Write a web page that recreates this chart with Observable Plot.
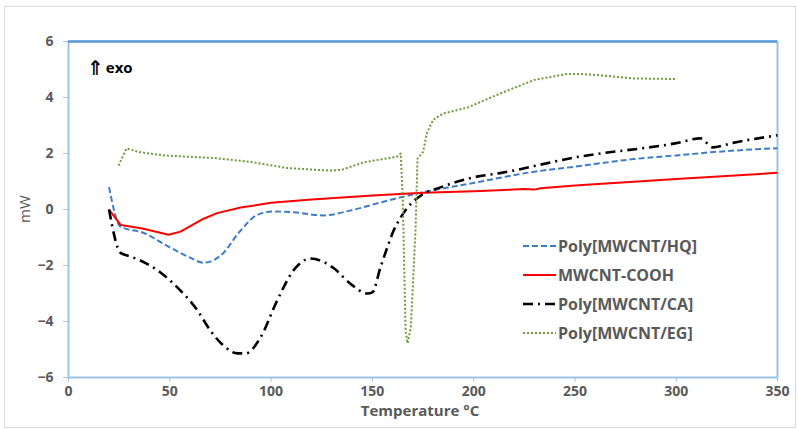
<!DOCTYPE html>
<html>
<head>
<meta charset="utf-8">
<script src="https://cdn.jsdelivr.net/npm/d3@7"></script>
<script src="https://cdn.jsdelivr.net/npm/@observablehq/plot@0.6"></script>
<style>
  html, body { margin: 0; padding: 0; background: #fff; }
  #wrap { position: relative; width: 798px; height: 429px; overflow: hidden; }
  #wrap svg { display: block; }
  #border { position: absolute; left: 4px; top: 6px; width: 790px; height: 420px; border: 1px solid #d9d9d9; pointer-events: none; }
  #legend { position: absolute; left: 523px; top: 231px; font-family: "Open Sans", sans-serif; font-weight: bold; font-size: 16px; color: #595959; }
  #legend .row { display: flex; align-items: center; height: 29px; }
  #legend svg { margin-right: 2px; }
</style>
</head>
<body>
<div id="wrap"><div id="border"></div></div>
<script>
// ---- data ----
const xTicks = [0, 50, 100, 150, 200, 250, 300, 350];
const yTicks = [-6, -4, -2, 0, 2, 4, 6];
const seriesNames = ["Poly[MWCNT/HQ]", "MWCNT-COOH", "Poly[MWCNT/CA]", "Poly[MWCNT/EG]"];

const hqT  = [20, 25.7, 36.5, 50, 60, 66.7, 75, 85, 93, 101, 111, 126, 139, 155.5, 172, 200, 230, 250, 279, 300, 320, 350];
const hqMW = [0.8, -0.62, -0.82, -1.35, -1.72, -1.9, -1.65, -0.75, -0.2, -0.07, -0.1, -0.21, -0.04, 0.28, 0.57, 0.95, 1.35, 1.53, 1.8, 1.93, 2.06, 2.19];

const coT  = [20, 25.7, 36.5, 49.4, 55.3, 66.7, 73.4, 85, 100, 120, 150, 175, 200, 225, 230, 233, 250, 300, 350];
const coMW = [0, -0.55, -0.68, -0.9, -0.79, -0.33, -0.13, 0.07, 0.24, 0.36, 0.5, 0.6, 0.65, 0.73, 0.71, 0.76, 0.86, 1.09, 1.31];

const caT  = [20, 25.7, 30.6, 35.5, 45.4, 53.7, 63.6, 70, 76.5, 83.4, 87.4, 94.8, 103, 111, 119.5, 131, 139, 147.6, 150, 154, 157.4, 160.5, 164, 169, 174, 183.6, 200, 213, 250, 300, 312, 318, 328, 350];
const caMW = [0, -1.55, -1.68, -1.82, -2.25, -2.78, -3.6, -4.32, -4.86, -5.14, -5.14, -4.57, -3.25, -2.18, -1.75, -2.1, -2.64, -3.0, -2.96, -2.07, -1.35, -0.75, -0.28, 0.2, 0.5, 0.79, 1.15, 1.3, 1.86, 2.37, 2.54, 2.22, 2.38, 2.65];

const egT  = [24.7, 28.6, 35, 47, 71.6, 90, 108, 129, 135, 145.6, 155, 162, 164, 165, 166.4, 167.4, 169, 171.3, 172.3, 175, 177, 180, 185, 197, 213, 230, 246, 253, 263, 279, 300];
const egMW = [1.57, 2.18, 2.05, 1.93, 1.84, 1.7, 1.48, 1.39, 1.42, 1.68, 1.8, 1.88, 2.0, 0.43, -4.32, -4.78, -4.2, -0.75, 1.82, 2.05, 2.75, 3.2, 3.43, 3.64, 4.14, 4.63, 4.84, 4.84, 4.79, 4.68, 4.66];

const styles = [
  {color: "#3d7dc8", dash: "6,3", width: 2, curve: "monotone-x"},
  {color: "#ff0000", dash: null, width: 2, curve: "linear"},
  {color: "#000000", dash: "10,5,2,5", width: 2.6, curve: "monotone-x"},
  {color: "#6e9a3a", dash: "2,2", width: 2, curve: "linear"}
];

const rows = (T, M) => T.map((t, i) => ({t, m: M[i]}));
const data = [rows(hqT, hqMW), rows(coT, coMW), rows(caT, caMW), rows(egT, egMW)];

const lineMarks = data.map((d, i) => Plot.line(d, {
  x: "t", y: "m",
  stroke: styles[i].color,
  strokeWidth: styles[i].width,
  strokeDasharray: styles[i].dash || undefined,
  curve: styles[i].curve,
  strokeLinecap: "butt",
  strokeLinejoin: "round"
}));

const chart = Plot.plot({
  width: 798,
  height: 429,
  marginLeft: 68,
  marginRight: 21,
  marginTop: 41,
  marginBottom: 52,
  style: {fontFamily: "'Open Sans', sans-serif", fontSize: "14px", fontWeight: "bold", color: "#595959", background: "transparent", overflow: "visible"},
  x: {domain: [xTicks[0], xTicks[xTicks.length - 1]]},
  y: {domain: [yTicks[0], yTicks[yTicks.length - 1]]},
  marks: [
    Plot.frame({stroke: "#9dc3e6", strokeWidth: 2}),
    Plot.ruleY([yTicks[yTicks.length - 1]], {stroke: "#5b9bd5", strokeWidth: 2.5}),
    Plot.axisX({ticks: xTicks, tickSize: 5, tickPadding: 4, stroke: "#9dc3e6", label: null, fontSize: 14}),
    Plot.axisY({ticks: yTicks, tickSize: 5, tickPadding: 10, stroke: "#9dc3e6", label: null, fontSize: 14}),
    ...lineMarks
  ]
});
document.getElementById("wrap").prepend(chart);

const svg = d3.select(chart);
// x axis title
svg.append("text")
  .attr("x", 420).attr("y", 412)
  .attr("text-anchor", "middle")
  .attr("dominant-baseline", "middle")
  .attr("fill", "#595959")
  .attr("font-size", 15)
  .attr("font-weight", "bold")
  .text("Temperature °C");
// y axis title
svg.append("text")
  .attr("transform", "translate(26,209) rotate(-90)")
  .attr("text-anchor", "middle")
  .attr("dominant-baseline", "middle")
  .attr("fill", "#595959")
  .attr("font-size", 15)
  .attr("font-weight", "normal")
  .text("mW");
// exo marker
const exo = svg.append("text")
  .attr("x", 87).attr("y", 69)
  .attr("text-anchor", "start")
  .attr("dominant-baseline", "middle")
  .attr("fill", "#000")
  .attr("font-weight", "bold");
exo.append("tspan").attr("font-family", "DejaVu Sans").attr("font-size", 20).text("⇑");
exo.append("tspan").attr("font-size", 15).attr("dx", 2).text("exo");

// legend
const legend = d3.select("#wrap").append("div").attr("id", "legend");
seriesNames.forEach((name, i) => {
  const row = legend.append("div").attr("class", "row");
  const s = row.append("svg").attr("width", 33).attr("height", 10);
  s.append("line").attr("x1", 0).attr("x2", 33).attr("y1", 5).attr("y2", 5)
    .attr("stroke", styles[i].color).attr("stroke-width", styles[i].width)
    .attr("stroke-dasharray", styles[i].dash);
  row.append("span").text(name);
});
</script>
</body>
</html>
